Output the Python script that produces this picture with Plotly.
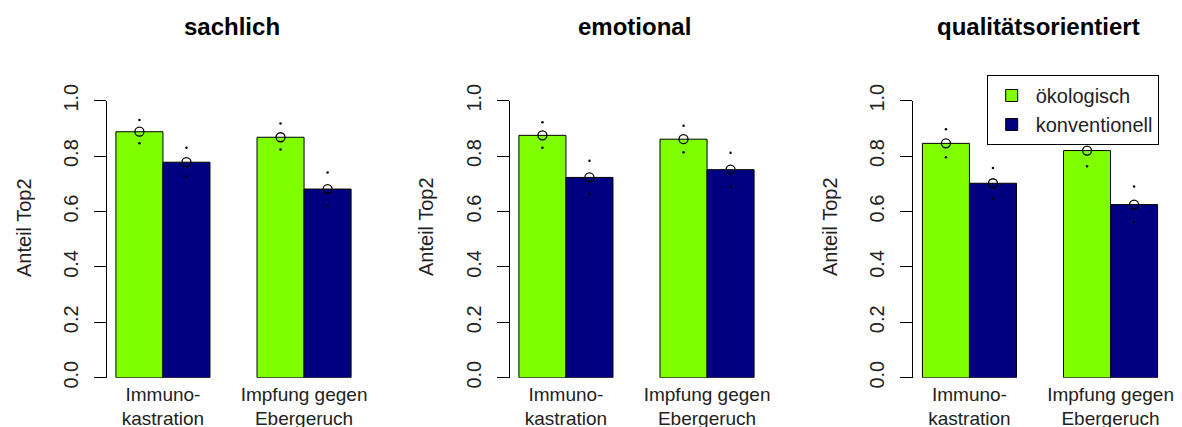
import plotly.graph_objects as go

# three panels, two groups each, two series (ökologisch / konventionell)
panels = ["sachlich", "emotional", "qualitätsorientiert"]
groups = ["Immuno-<br>kastration", "Impfung gegen<br>Ebergeruch"]
series = ["ökologisch", "konventionell"]
colors = ["#7FFF00", "#000080"]

# means and interval bounds per panel, [Immunokastration, Impfung]
oeko_mean = [[0.888, 0.868], [0.875, 0.861], [0.846, 0.820]]
oeko_upper = [[0.930, 0.918], [0.922, 0.910], [0.897, 0.875]]
oeko_lower = [[0.846, 0.824], [0.830, 0.814], [0.796, 0.763]]

konv_mean = [[0.778, 0.681], [0.723, 0.751], [0.702, 0.625]]
konv_upper = [[0.830, 0.741], [0.783, 0.812], [0.757, 0.690]]
konv_lower = [[0.726, 0.621], [0.663, 0.690], [0.647, 0.563]]

y_ticks = [0.0, 0.2, 0.4, 0.6, 0.8, 1.0]

W, H = 1182, 427


def fx(p):
    return p / W


def fy(p):
    return 1 - p / H


# pixel layout of the R device
plot_left = [106.5, 509.5, 913.0]
plot_width = 254.0
y0_px, y1_px = 377.7, 100.7
ylab_x = [24, 426, 830]

fig = go.Figure()
layout_axes = {}
annotations = []

for k, name in enumerate(panels):
    sfx = "" if k == 0 else str(k + 1)
    xa, ya = "x" + sfx, "y" + sfx
    means = [oeko_mean[k], konv_mean[k]]
    uppers = [oeko_upper[k], konv_upper[k]]
    lowers = [oeko_lower[k], konv_lower[k]]

    # barplot(beside=TRUE): bars of width 1, one bar width gap between groups
    for s in range(2):
        xs = [1.5 + 3 * g + s for g in range(2)]
        fig.add_bar(
            x=xs, y=means[s], width=1, xaxis=xa, yaxis=ya,
            marker=dict(color=colors[s], line=dict(color="black", width=1)),
            name=series[s], legendgroup=series[s], showlegend=(k == 2),
        )

    xs_all = [1.5 + 3 * g + s for s in range(2) for g in range(2)]
    m_all = [means[s][g] for s in range(2) for g in range(2)]
    u_all = [uppers[s][g] for s in range(2) for g in range(2)]
    l_all = [lowers[s][g] for s in range(2) for g in range(2)]

    # interval ends as tiny dots, mean as open circle
    fig.add_scatter(
        x=xs_all + xs_all, y=u_all + l_all, mode="markers", xaxis=xa, yaxis=ya,
        marker=dict(symbol="circle", size=2.5, color="black"),
        showlegend=False, hoverinfo="skip",
    )
    fig.add_scatter(
        x=xs_all, y=m_all, mode="markers", xaxis=xa, yaxis=ya,
        marker=dict(symbol="circle-open", size=9, color="black", line=dict(width=1.3)),
        showlegend=False,
    )

    left = plot_left[k]
    layout_axes["xaxis" + sfx] = dict(
        domain=[fx(left), fx(left + plot_width)], range=[0.8, 6.2], anchor=ya,
        tickvals=[2, 5], ticktext=groups, ticks="", showline=False,
        showgrid=False, zeroline=False, fixedrange=True, automargin=False,
        ticklabelstandoff=3, tickfont=dict(size=19, color="#222"),
    )
    layout_axes["yaxis" + sfx] = dict(
        domain=[fy(y0_px), fy(y1_px)], range=[0, 1], anchor=xa,
        tickvals=y_ticks, ticktext=[f"{v:.1f}" for v in y_ticks], tickangle=-90,
        ticks="outside", ticklen=12, tickcolor="black", showline=True,
        linecolor="black", linewidth=1, showgrid=False, zeroline=False,
        automargin=False, fixedrange=True,
        ticklabelstandoff=8, tickfont=dict(size=20, color="#222"),
    )

    annotations.append(dict(
        text="<b>" + name + "</b>", x=fx(left + plot_width / 2 - 2), y=fy(27),
        xref="paper", yref="paper", xanchor="center", yanchor="middle",
        showarrow=False, font=dict(size=24, color="black"),
    ))
    annotations.append(dict(
        text="Anteil Top2", x=fx(ylab_x[k]), y=fy(227), textangle=-90,
        xref="paper", yref="paper", xanchor="center", yanchor="middle",
        showarrow=False, font=dict(size=20, color="#222"),
    ))

fig.update_layout(
    width=W, height=H,
    margin=dict(l=0, r=0, t=0, b=0, autoexpand=False),
    paper_bgcolor="white", plot_bgcolor="white",
    barmode="overlay",
    font=dict(family="Liberation Sans, Arial, sans-serif", color="#222"),
    annotations=annotations,
    legend=dict(
        x=fx(986.7), y=fy(75), xanchor="left", yanchor="top",
        bgcolor="white", bordercolor="black", borderwidth=1,
        font=dict(size=20, color="#222"), tracegroupgap=0, itemwidth=38,
    ),
    **layout_axes,
)

# the page body has a default 8px margin; drop it so the figure sits at 0,0
fig.write_html(
    "out.html",
    config={"displayModeBar": False},
    post_script="document.body.style.margin='0';",
)
